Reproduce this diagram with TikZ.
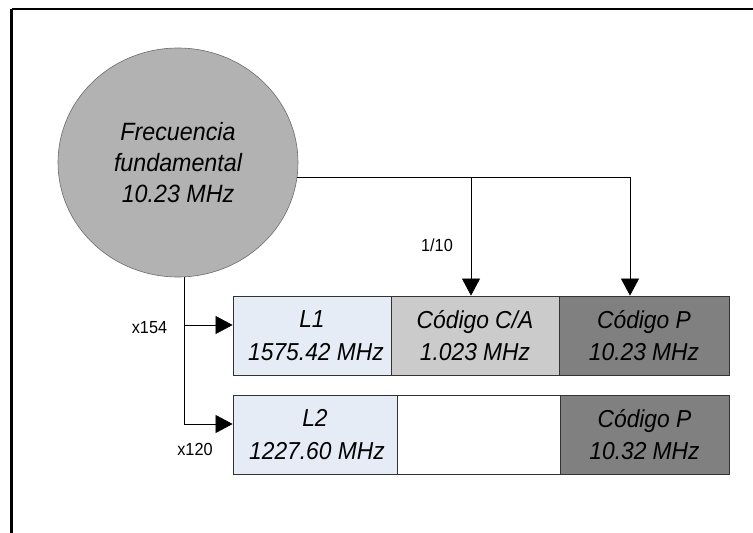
\documentclass[tikz,border=0pt]{standalone}
\usepackage{fontspec}
\setmainfont[FakeStretch=0.93]{Liberation Sans}
\usetikzlibrary{shapes.geometric,arrows.meta}
\definecolor{circfill}{HTML}{B2B2B2}
\definecolor{lfill}{HTML}{E6ECF6}
\definecolor{cafill}{HTML}{CBCBCB}
\definecolor{pfill}{HTML}{808080}
\definecolor{edge}{HTML}{333333}
\tikzset{
  box/.style={draw=edge, line width=0.8pt, minimum height=79pt, inner sep=0pt, align=center,
    font=\fontsize{24.5}{31.5}\selectfont\itshape},
  lbl/.style={font=\fontsize{17.5}{18}\selectfont, inner sep=0pt},
  arr/.style={line width=0.7pt, -{Triangle[length=17pt,width=18pt]}},
  ln/.style={line width=0.7pt}
}
\begin{document}
\begin{tikzpicture}[x=1pt,y=-1pt]
\useasboundingbox (0,0) rectangle (753,533);
% frame
\draw[line width=2.5pt] (11.5,9) -- (753,9);
\draw[line width=2.5pt] (11.5,9) -- (11.5,533);
% circle
\node[ellipse, draw=gray!85!black, line width=0.6pt, fill=circfill, minimum width=240pt, minimum height=229pt, inner sep=0pt,
  align=center, font=\fontsize{25}{31}\selectfont\itshape] (c) at (178,162.5) {Frecuencia\\fundamental\\10.23 MHz};
% row 1
\node[box, fill=lfill, minimum width=158pt] (L1) at (312,335.5) {L1\\[1pt]\hspace*{8pt}1575.42 MHz};
\node[box, fill=cafill, minimum width=168pt] (CA) at (475,335.5) {Código C/A\\[1pt]1.023 MHz};
\node[box, fill=pfill, minimum width=170pt] (P1) at (644,335.5) {Código P\\[1pt]10.23 MHz};
% row 2
\node[box, fill=lfill, minimum width=164pt] (L2) at (315,434.5) {L2\\[1pt]\hspace*{4pt}1227.60 MHz};
\node[box, fill=white, minimum width=163pt] (E2) at (478.5,434.5) {};
\node[box, fill=pfill, minimum width=169pt] (P2) at (644.5,434.5) {Código P\\[1pt]10.32 MHz};
% connectors
\coordinate (t1) at ([yshift=10.5pt]L1.west);
\coordinate (t2) at ([yshift=10.5pt]L2.west);
\coordinate (ca) at ([xshift=-4pt]CA.north);
\coordinate (pp) at ([xshift=-14pt]P1.north);
\draw[arr] (c.-87.5) |- (t2);
\draw[arr] (c.-87.5 |- t1) -- (t1);
\draw[arr] (c.-7) -| (pp);
\draw[arr] (ca |- c.-7) -- (ca);
% labels
\node[lbl] (x154) at (149.5,327.5) {x154};
\node[lbl] (x120) at (195,449) {x120};
\node[lbl] (div) at (437,245) {1/10};
\end{tikzpicture}
\end{document}
